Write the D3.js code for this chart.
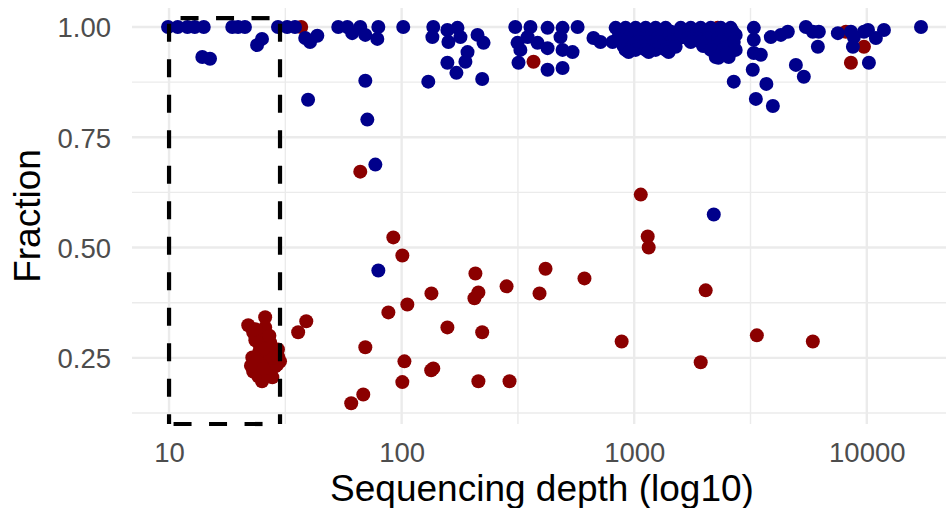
<!DOCTYPE html>
<html>
<head>
<meta charset="utf-8">
<script src="https://cdn.jsdelivr.net/npm/d3@7/dist/d3.min.js"></script>
<style>
  html, body { margin: 0; padding: 0; background: #fff; }
  svg { display: block; }
</style>
</head>
<body>
<svg id="chart" width="948" height="508"></svg>
<script>
// ---------------- data ----------------
const xTicks = [10, 100, 1000, 10000];
const yTicks = [0.25, 0.50, 0.75, 1.00];
const xTitle = "Sequencing depth (log10)";
const yTitle = "Fraction";

// highlighted region (depth 10..30)
const boxDepth = [10, 30];
const boxFrac = [0.1, 1.02];

// red points [depth, fraction]
const redPoints = [
  [37.0, 1.0], [369, 0.921], [2286, 0.998], [8130, 0.989], [9720, 0.955], [8545, 0.919],
  [66.4, 0.672], [92.1, 0.523], [100.7, 0.482], [38.9, 0.333], [35.9, 0.308], [69.8, 0.274],
  [87.7, 0.353], [105.8, 0.371], [134.3, 0.396], [207.6, 0.441], [213.8, 0.398], [205.6, 0.385],
  [282.6, 0.412], [415.6, 0.452], [391.6, 0.396], [611, 0.430], [157.3, 0.319], [222, 0.308],
  [102.8, 0.242], [136.8, 0.226], [134.0, 0.222], [100.7, 0.195], [213.8, 0.197], [291, 0.197],
  [68.4, 0.167], [60.7, 0.147], [883, 0.287], [1067, 0.620], [1143, 0.525], [1154, 0.500],
  [2029, 0.403], [1931, 0.240], [3367, 0.301], [5860, 0.287],
  [21.9, 0.324], [25.9, 0.342], [23.0, 0.308], [25.4, 0.299], [27.2, 0.285], [28.6, 0.265],
  [22.8, 0.251], [29.2, 0.235], [23.0, 0.219], [25.1, 0.197], [27.8, 0.206], [26.4, 0.247],
  [24.2, 0.285], [27.2, 0.276], [30.0, 0.242], [26.4, 0.224], [28.6, 0.231], [24.6, 0.269],
  [25.9, 0.319], [24.2, 0.258], [25.4, 0.235], [27.2, 0.258], [29.4, 0.269], [24.2, 0.208],
  [23.5, 0.290], [26.0, 0.270], [28.0, 0.250], [24.0, 0.240], [26.5, 0.212], [23.5, 0.315],
  [27.0, 0.300], [29.5, 0.252], [22.5, 0.232], [25.5, 0.225]
];

// blue points [depth, fraction]
const bluePoints = [
  [9.9, 1.0], [10.9, 1.0], [12.0, 1.0], [12.9, 1.0], [14.1, 1.0],
  [18.7, 1.0], [19.8, 1.0], [21.2, 1.0],
  [29.4, 1.0], [32.2, 1.0], [34.8, 1.0],
  [13.9, 0.932], [15.0, 0.928], [23.9, 0.959], [25.1, 0.973],
  [38.5, 0.975], [40.4, 0.966], [43.4, 0.980], [39.6, 0.835],
  [53.4, 1.0], [58.4, 1.0], [66.4, 1.0], [79.4, 1.0],
  [61.3, 0.986], [69.8, 0.982], [78.6, 0.973],
  [69.8, 0.878], [71.2, 0.790], [77.1, 0.688], [79.4, 0.448],
  [101.6, 1.0],
  [136.8, 1.0], [135.6, 0.977], [157.3, 0.993], [158.9, 0.966], [173.8, 0.998], [179, 0.977],
  [212, 0.982], [225, 0.964], [192, 0.943], [188, 0.921], [157.3, 0.919], [172, 0.896],
  [130.2, 0.876], [222, 0.882],
  [308, 1.0], [358, 1.0], [424, 0.998], [492, 0.998], [571, 1.0], [315, 0.964], [324, 0.948],
  [318, 0.919], [384, 0.964], [424, 0.952], [492, 0.948], [543, 0.943], [424, 0.903], [492, 0.907],
  [348, 0.977], [482, 0.977], [668, 0.975], [716, 0.966],
  // dense cluster around 1000-2700
  [832, 0.998], [918, 0.998], [1014, 0.998], [1120, 0.998], [1236, 0.998], [1365, 0.998],
  [1585, 0.998], [1750, 0.998], [1931, 0.998], [2133, 0.998], [2355, 0.998], [2600, 0.998],
  [860, 0.990], [960, 0.990], [1060, 0.990], [1180, 0.990], [1300, 0.990], [1430, 0.990],
  [1620, 0.990], [1800, 0.990], [1990, 0.990], [2200, 0.990], [2420, 0.990], [2650, 0.990],
  [874, 0.982], [984, 0.982], [1087, 0.982], [1200, 0.982], [1325, 0.982], [1463, 0.982],
  [1665, 0.982], [1837, 0.982], [2029, 0.982], [2241, 0.982], [2474, 0.982], [2731, 0.982],
  [850, 0.974], [950, 0.974], [1050, 0.974], [1150, 0.974], [1260, 0.974], [1390, 0.974],
  [1550, 0.974], [1700, 0.974], [1880, 0.974], [2080, 0.974], [2300, 0.974], [2550, 0.974],
  [807, 0.966], [918, 0.966], [1045, 0.966], [1154, 0.966], [1274, 0.966], [1436, 0.966],
  [1750, 0.966], [1931, 0.966], [2355, 0.966], [2679, 0.966],
  [900, 0.957], [990, 0.957], [1090, 0.957], [1200, 0.957], [1320, 0.957], [1450, 0.957],
  [1980, 0.957], [2280, 0.957], [2600, 0.957],
  [918, 0.948], [1014, 0.948], [1120, 0.948], [1236, 0.948], [1365, 0.948], [2133, 0.948],
  [2404, 0.948], [2731, 0.948], [946, 0.943], [1154, 0.943], [1406, 0.943], [1507, 0.955],
  [2241, 0.932], [2548, 0.932], [2300, 0.930], [2500, 0.940],
  [3267, 0.998], [3267, 0.971], [3267, 0.941], [3502, 0.937], [3233, 0.903], [3700, 0.871],
  [3334, 0.837], [3945, 0.821], [2679, 0.876], [2198, 0.575],
  [3866, 0.977], [4270, 0.982], [4575, 0.989], [5470, 1.0], [5860, 0.989], [6220, 0.989],
  [6160, 0.955], [4955, 0.914], [5360, 0.887], [7510, 0.986], [8545, 0.989], [8800, 0.977],
  [8715, 0.955], [10210, 0.919], [9720, 0.989], [10120, 0.993], [10940, 0.975], [11850, 0.993],
  [17100, 1.0]
];

// ---------------- layout ----------------
const W = 948, H = 508;
const panel = { left: 132, right: 946, top: 8, bottom: 424 };
const colors = { red: "#8B0000", blue: "#00008B", grid: "#ebebeb", tick: "#4d4d4d" };
const fontFamily = "'Liberation Sans', Arial, Helvetica, sans-serif";

const x = d3.scaleLog()
  .domain([Math.pow(10, 0.8407), Math.pow(10, 4.3405)])
  .range([panel.left, panel.right]);
const y = d3.scaleLinear()
  .domain([0.1, 1.043])
  .range([panel.bottom, panel.top]);

const xMinor = xTicks.map(t => t * Math.sqrt(10)).concat([xTicks[0] / Math.sqrt(10)])
  .filter(v => x(v) >= panel.left && x(v) <= panel.right);
const yMinor = [yTicks[0] - 0.125].concat(yTicks.slice(0, -1).map(t => t + 0.125))
  .filter(v => y(v) >= panel.top && y(v) <= panel.bottom);

const svg = d3.select("#chart");

// grid
const grid = svg.append("g");
grid.selectAll("line.ymin").data(yMinor).enter().append("line")
  .attr("x1", panel.left).attr("x2", panel.right)
  .attr("y1", d => y(d)).attr("y2", d => y(d))
  .attr("stroke", colors.grid).attr("stroke-width", 1.4);
grid.selectAll("line.xmin").data(xMinor).enter().append("line")
  .attr("y1", panel.top).attr("y2", panel.bottom)
  .attr("x1", d => x(d)).attr("x2", d => x(d))
  .attr("stroke", colors.grid).attr("stroke-width", 1.4);
grid.selectAll("line.ymaj").data(yTicks).enter().append("line")
  .attr("x1", panel.left).attr("x2", panel.right)
  .attr("y1", d => y(d)).attr("y2", d => y(d))
  .attr("stroke", colors.grid).attr("stroke-width", 2.4);
grid.selectAll("line.xmaj").data(xTicks).enter().append("line")
  .attr("y1", panel.top).attr("y2", panel.bottom)
  .attr("x1", d => x(d)).attr("x2", d => x(d))
  .attr("stroke", colors.grid).attr("stroke-width", 2.4);

// axes
const xAxis = svg.append("g")
  .attr("transform", `translate(0,${panel.bottom})`)
  .call(d3.axisBottom(x).tickValues(xTicks).tickFormat(d3.format("d")).tickSize(0));
xAxis.select(".domain").remove();
xAxis.selectAll("text")
  .attr("y", 38).attr("dy", 0)
  .attr("fill", colors.tick)
  .style("font-family", fontFamily).style("font-size", "27.5px");

const yAxis = svg.append("g")
  .attr("transform", `translate(${panel.left},0)`)
  .call(d3.axisLeft(y).tickValues(yTicks).tickFormat(d3.format(".2f")).tickSize(0));
yAxis.select(".domain").remove();
yAxis.selectAll("text")
  .attr("x", -21).attr("dy", "0.36em")
  .attr("fill", colors.tick)
  .style("font-family", fontFamily).style("font-size", "27.5px");

// titles
svg.append("text")
  .attr("x", (panel.left + panel.right) / 2 + 3).attr("y", 501)
  .attr("text-anchor", "middle")
  .style("font-family", fontFamily).style("font-size", "37px")
  .attr("fill", "#000")
  .text(xTitle);
svg.append("text")
  .attr("transform", `translate(40,${(panel.top + panel.bottom) / 2}) rotate(-90)`)
  .attr("text-anchor", "middle")
  .style("font-family", fontFamily).style("font-size", "37px")
  .attr("fill", "#000")
  .text(yTitle);

// points
const r = 7;
svg.append("g").selectAll("circle").data(redPoints).enter().append("circle")
  .attr("cx", d => x(d[0])).attr("cy", d => y(d[1])).attr("r", r)
  .attr("fill", colors.red);
svg.append("g").selectAll("circle").data(bluePoints).enter().append("circle")
  .attr("cx", d => x(d[0])).attr("cy", d => y(d[1])).attr("r", r)
  .attr("fill", colors.blue);

// dashed box
const bx0 = x(boxDepth[0]), bx1 = x(boxDepth[1]);
const by0 = y(boxFrac[1]), by1 = y(boxFrac[0]);
const box = svg.append("g")
  .attr("stroke", "#000").attr("stroke-width", 4.2)
  .attr("stroke-dasharray", "18,17.5").attr("fill", "none");
box.append("line").attr("x1", bx0).attr("x2", bx1).attr("y1", by0).attr("y2", by0).attr("stroke-dashoffset", 24);
box.append("line").attr("x1", bx0).attr("x2", bx0).attr("y1", by0).attr("y2", by1).attr("stroke-dashoffset", 30);
box.append("line").attr("x1", bx1).attr("x2", bx1).attr("y1", by0).attr("y2", by1).attr("stroke-dashoffset", 30);
box.append("line").attr("x1", bx0).attr("x2", bx1).attr("y1", by1).attr("y2", by1).attr("stroke-dashoffset", 31);
</script>
</body>
</html>
